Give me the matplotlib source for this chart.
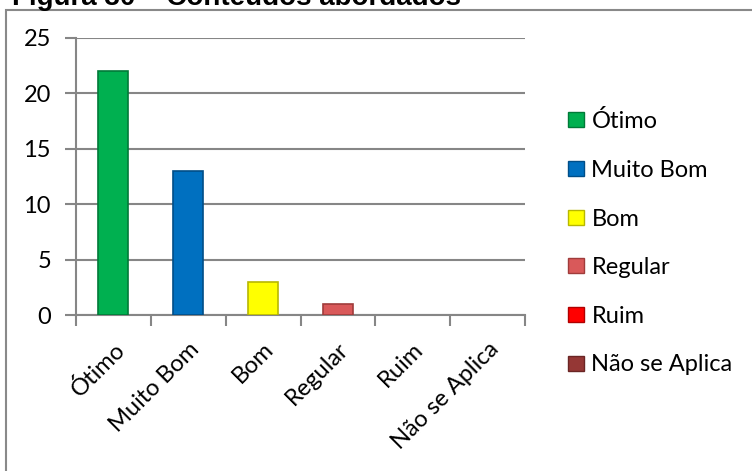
import matplotlib.pyplot as plt
from matplotlib.patches import Rectangle, Patch

categorias = ["Ótimo", "Muito Bom", "Bom", "Regular", "Ruim", "Não se Aplica"]
valores = [22, 13, 3, 1, 0, 0]
cores = ["#00B050", "#0070C0", "#FFFF00", "#D9595A", "#FF0000", "#953735"]
bordas = ["#007A38", "#004E88", "#B8B800", "#A03C3B", "#B00000", "#6A2524"]
y_ticks = [0, 5, 10, 15, 20, 25]

plt.rcParams['font.family'] = ['Lato', 'DejaVu Sans']

W, H = 752, 471
fig = plt.figure(figsize=(W / 100, H / 100), dpi=100)
ax = fig.add_axes([76 / W, 1 - 315 / H, 449 / W, (315 - 38) / H])

x = list(range(len(categorias)))
# barras com valor zero não têm borda visível
larguras = [1.2 if v > 0 else 0 for v in valores]
ax.bar(x, valores, width=0.4, color=cores, edgecolor=bordas, linewidth=larguras, zorder=3)

ax.set_xlim(-0.5, len(categorias) - 0.5)
ax.set_ylim(0, 25)
ax.set_yticks(y_ticks)
ax.tick_params(axis='y', length=8, width=1.5, color='#868686', labelsize=17, pad=10)
ax.yaxis.grid(True, color='#868686', linewidth=1.5, zorder=0)
ax.set_axisbelow(True)

ax.set_xticks(x)
ax.set_xticklabels(categorias, rotation=45, ha='right', rotation_mode='anchor', fontsize=17)
ax.set_xticks([i - 0.5 for i in range(len(categorias) + 1)], minor=True)
ax.tick_params(axis='x', which='major', length=0, pad=17)
ax.tick_params(axis='x', which='minor', length=8, width=1.5, color='#868686')

for lado in ['top', 'right']:
    ax.spines[lado].set_visible(False)
for lado in ['left', 'bottom']:
    ax.spines[lado].set_color('#868686')
    ax.spines[lado].set_linewidth(1.5)

# moldura do gráfico
fig.patches.append(Rectangle((6 / W, -0.1), 1.0, 1 - 9.5 / H + 0.1, transform=fig.transFigure,
                             fill=False, edgecolor='#898989', linewidth=1.5))

handles = [Patch(facecolor=c, edgecolor=b, linewidth=1) for c, b in zip(cores, bordas)]
fig.legend(handles, categorias, loc='upper left', bbox_to_anchor=(547 / W, 1 - 89 / H),
           frameon=False, fontsize=17, handlelength=0.68, handleheight=0.6,
           handletextpad=0.3, labelspacing=1.17)

fig.text(12 / W, 1 - 5 / H, "Figura 30 – Conteúdos abordados", fontsize=20, fontweight='bold',
         family=['Liberation Sans', 'DejaVu Sans'], va='baseline', ha='left')

plt.savefig("out.png", dpi=100)
